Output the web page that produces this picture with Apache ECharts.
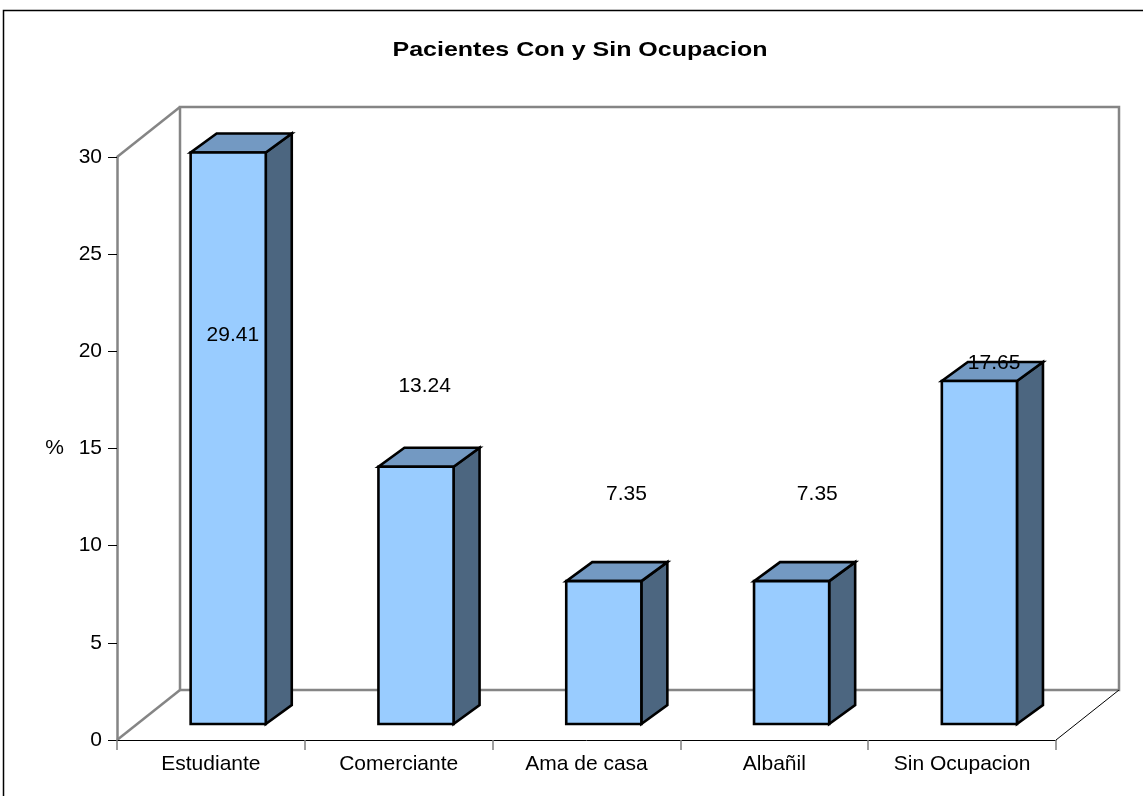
<!DOCTYPE html>
<html>
<head>
<meta charset="utf-8">
<script src="https://cdn.jsdelivr.net/npm/echarts@6/dist/echarts.min.js"></script>
<style>
  html, body { margin: 0; padding: 0; background: #fff; }
  #chart { width: 1143px; height: 796px; }
</style>
</head>
<body>
<div id="chart"></div>
<script>
// Occupation of the patients, percentage per group
const categories = ['Estudiante', 'Comerciante', 'Ama de casa', 'Albañil', 'Sin Ocupacion'];
const percents = [29.41, 13.24, 7.35, 7.35, 17.65];
const yTicks = { min: 0, max: 30, interval: 5 };

// Where each value label floats (axis units, pixel shift from the category centre)
const labelLevel = [20.85, 18.2, 12.65, 12.65, 19.4];
const labelShift = [22, 26, 40, 43, 32];

const FONT = "'Liberation Sans', Arial, sans-serif";
// Oblique depth of the 3D box (floor/back wall) and of each column
const WALL_DX = 63, WALL_DY = -50;
const BAR_FRONT_DX = 17.3, BAR_FRONT_DY = -16;
const BAR_DX = 26, BAR_DY = -19;
const BAR_RATIO = 0.4;

const chart = echarts.init(document.getElementById('chart'), null, { renderer: 'canvas' });

function renderWalls(params, api) {
  const cs = params.coordSys;
  const x0 = cs.x, y0 = cs.y, x1 = cs.x + cs.width, y1 = cs.y + cs.height;
  const gray = { stroke: '#858585', lineWidth: 2.5, fill: null };
  return {
    type: 'group',
    children: [
      { type: 'polygon', shape: { points: [
          [x0 + WALL_DX, y0 + WALL_DY], [x1 + WALL_DX, y0 + WALL_DY],
          [x1 + WALL_DX, y1 + WALL_DY], [x0 + WALL_DX, y1 + WALL_DY]] },
        style: { stroke: '#858585', lineWidth: 2.5, fill: '#ffffff' } },
      { type: 'line', shape: { x1: x0, y1: y0, x2: x0 + WALL_DX, y2: y0 + WALL_DY }, style: gray },
      { type: 'line', shape: { x1: x0, y1: y1, x2: x0 + WALL_DX, y2: y1 + WALL_DY }, style: gray },
      { type: 'line', shape: { x1: x1, y1: y1, x2: x1 + WALL_DX, y2: y1 + WALL_DY },
        style: { stroke: '#000', lineWidth: 1 } }
    ]
  };
}

function renderBar(params, api) {
  const i = api.value(0);
  const v = api.value(1);
  const base = api.coord([i, 0]);
  const top = api.coord([i, v]);
  const band = api.size([1, 0])[0];
  const w = band * BAR_RATIO;
  const cx = base[0] + BAR_FRONT_DX;
  const l = cx - w / 2, r = cx + w / 2;
  const b = base[1] + BAR_FRONT_DY, t = top[1] + BAR_FRONT_DY;
  const edge = { stroke: '#000', lineWidth: 2.6, lineJoin: 'miter' };
  const lblY = api.coord([i, labelLevel[i]])[1];
  return {
    type: 'group',
    children: [
      { type: 'polygon', shape: { points: [[r, t], [r, b], [r + BAR_DX, b + BAR_DY], [r + BAR_DX, t + BAR_DY]] },
        style: Object.assign({ fill: '#4C6680' }, edge) },
      { type: 'polygon', shape: { points: [[l, t], [r, t], [r + BAR_DX, t + BAR_DY], [l + BAR_DX, t + BAR_DY]] },
        style: Object.assign({ fill: '#7399C2' }, edge) },
      { type: 'rect', shape: { x: l, y: t, width: w, height: b - t },
        style: Object.assign({ fill: '#99CCFF' }, edge) },
      { type: 'text', x: base[0] + labelShift[i], y: lblY,
        style: { text: String(percents[i]), font: '21px ' + FONT, fill: '#000',
                 align: 'center', verticalAlign: 'middle' } }
    ]
  };
}

chart.setOption({
  animation: false,
  backgroundColor: '#fff',
  grid: { left: 117, right: 87, top: 157, bottom: 56, containLabel: false },
  graphic: [
    { type: 'rect', shape: { x: 3.5, y: 10.5, width: 1200, height: 900 },
      style: { fill: null, stroke: '#000', lineWidth: 1.5 }, z: -10 },
    { type: 'text', x: 580, y: 50, scaleX: 1.19,
      style: { text: 'Pacientes Con y Sin Ocupacion', font: 'bold 21px ' + FONT, fill: '#000',
               align: 'center', verticalAlign: 'middle' } }
  ],
  xAxis: {
    type: 'category',
    data: categories,
    boundaryGap: true,
    axisLine: { show: true, lineStyle: { color: '#000', width: 1 } },
    axisTick: { show: true, length: 10, lineStyle: { color: '#808080', width: 1.5 } },
    axisLabel: { fontSize: 21, fontFamily: FONT, color: '#000', margin: 14, interval: 0 },
    splitLine: { show: false },
    z: 5
  },
  yAxis: {
    type: 'value',
    min: yTicks.min, max: yTicks.max, interval: yTicks.interval,
    name: '%',
    nameLocation: 'middle',
    nameRotate: 0,
    nameGap: 53,
    nameTextStyle: { fontSize: 21, fontFamily: FONT, color: '#000', align: 'right', verticalAlign: 'middle' },
    axisLine: { show: true, lineStyle: { color: '#858585', width: 2.5 } },
    axisTick: { show: true, length: 9, lineStyle: { color: '#000', width: 1 } },
    axisLabel: { fontSize: 21, fontFamily: FONT, color: '#000', margin: 15 },
    splitLine: { show: false },
    z: 5
  },
  series: [
    {
      type: 'custom',
      name: 'walls',
      silent: true,
      clip: false,
      z: 1,
      renderItem: renderWalls,
      data: [[0, 0]]
    },
    {
      type: 'custom',
      name: 'Ocupación',
      clip: false,
      z: 3,
      renderItem: renderBar,
      encode: { x: 0, y: 1 },
      data: percents.map((v, i) => [i, v])
    }
  ]
});
</script>
</body>
</html>
